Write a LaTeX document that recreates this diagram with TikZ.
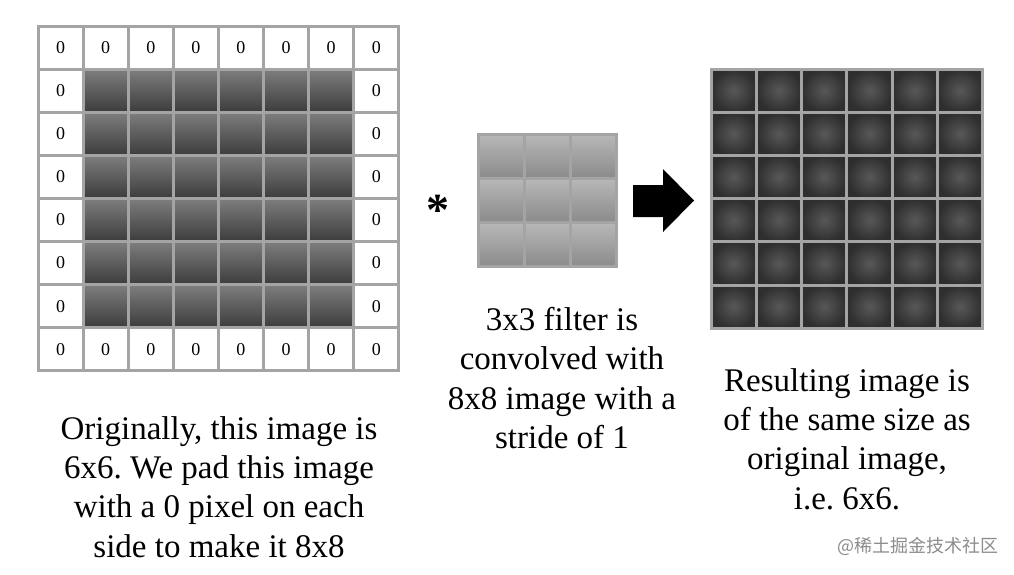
\documentclass[tikz,border=0pt]{standalone}
\usepackage{fontspec}
\setmainfont{Liberation Serif}
\newfontfamily\cjk{Noto Sans CJK SC}
\frenchspacing
\definecolor{gridgray}{HTML}{A4A4A4}
\definecolor{darktop}{HTML}{7E7E7E}
\definecolor{darkbot}{HTML}{3C3C3C}
\definecolor{filtop}{HTML}{B8B8B8}
\definecolor{filbot}{HTML}{8A8A8A}
\definecolor{resout}{HTML}{2E2E2E}
\definecolor{resin}{HTML}{585858}
\tikzset{
  pcell/.style={rectangle, inner sep=0pt, minimum width=45.1pt, minimum height=43.1pt,
    draw=gridgray, line width=3pt, fill=white, font=\fontsize{18}{20}\selectfont},
  dcell/.style={pcell, top color=darktop, bottom color=darkbot},
  fcell/.style={rectangle, inner sep=0pt, minimum width=46pt, minimum height=44.3pt,
    draw=gridgray, line width=3pt, top color=filtop, bottom color=filbot},
  rcell/.style={rectangle, inner sep=0pt, minimum width=45.3pt, minimum height=43.2pt,
    draw=gridgray, line width=3pt, inner color=resin, outer color=resout},
  caption/.style={align=center, font=\fontsize{33}{39.2}\selectfont, inner sep=0pt}
}
\begin{document}
\begin{tikzpicture}[x=1pt,y=-1pt]
\useasboundingbox[fill=white] (0,0) rectangle (1014,574);
% padded 8x8 grid
\foreach \i in {0,...,7}{
  \foreach \j in {0,...,7}{
    \pgfmathtruncatemacro{\inner}{(\i>0)*(\i<7)*(\j>0)*(\j<7)}
    \ifnum\inner=1
      \node[dcell] (p-\i-\j) at ({38+45.1*(\j+0.5)},{26+43.1*(\i+0.5)}) {};
    \else
      \node[pcell] (p-\i-\j) at ({38+45.1*(\j+0.5)},{26+43.1*(\i+0.5)}) {0};
    \fi
  }
}
% filter 3x3
\foreach \i in {0,1,2}{
  \foreach \j in {0,1,2}{
    \node[fcell] (f-\i-\j) at ({478+46*(\j+0.5)},{134+44.3*(\i+0.5)}) {};
  }
}
% result 6x6
\foreach \i in {0,...,5}{
  \foreach \j in {0,...,5}{
    \node[rcell] (r-\i-\j) at ({711+45.3*(\j+0.5)},{69+43.2*(\i+0.5)}) {};
  }
}
% asterisk
\node[anchor=base, inner sep=0pt, font=\fontsize{46}{48}\selectfont\bfseries] (ast) at (438,225) {*};
% block arrow
\fill[black] (633,185) -- (663,185) -- (663,169) -- (694,200.5) -- (663,232) -- (663,217) -- (633,217) -- cycle;
% captions
\node[caption] (cl) at (219,487) {Originally, this image is\\6x6. We pad this image\\with a 0 pixel on each\\side to make it 8x8};
\node[caption] (cm) at (562,378) {3x3 filter is\\convolved with\\8x8 image with a\\stride of 1};
\node[caption] (cr) at (847,439) {Resulting image is\\of the same size as\\original image,\\i.e. 6x6.};
% watermark
\node[font=\cjk\fontsize{18}{20}\selectfont, text=black!45, inner sep=0pt] (wm) at (918,546) {@稀土掘金技术社区};
\end{tikzpicture}
\end{document}
